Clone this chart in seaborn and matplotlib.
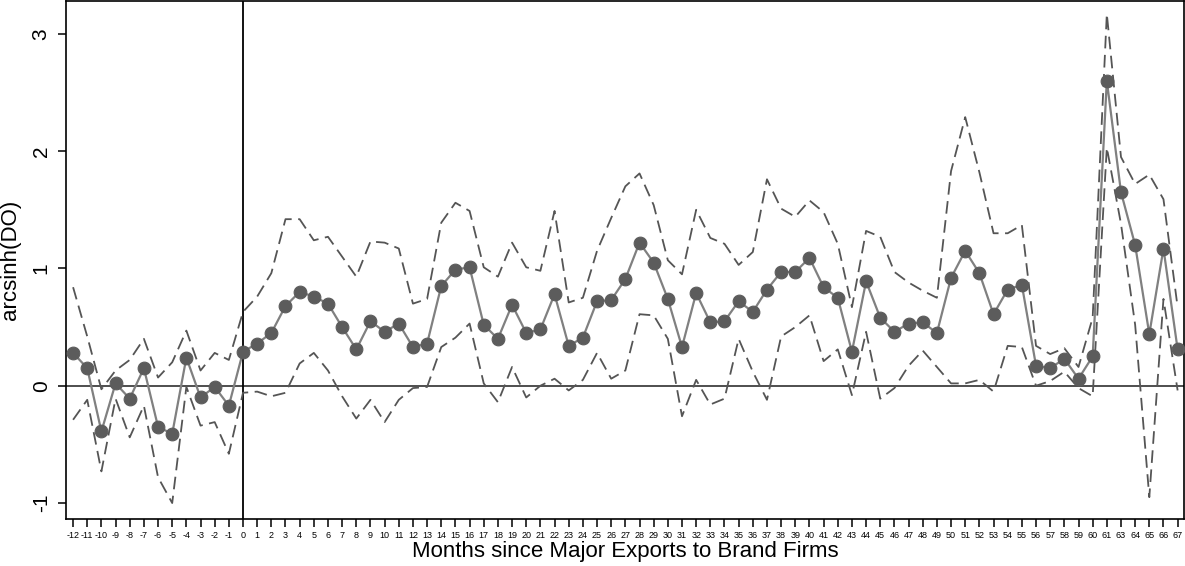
import numpy as np
import pandas as pd
import matplotlib
matplotlib.use("Agg")
import matplotlib.pyplot as plt
import seaborn as sns

# ---- data -------------------------------------------------------------
months = list(range(-12, 62)) + [63, 64, 65, 66, 67]

estimate = [0.28, 0.15, -0.39, 0.02, -0.11, 0.15, -0.35, -0.41, 0.24, -0.10, -0.01, -0.17,
            0.29, 0.36, 0.45, 0.68, 0.80, 0.76, 0.70, 0.50, 0.31, 0.55, 0.46, 0.53,
            0.33, 0.36, 0.85, 0.99, 1.01, 0.52, 0.40, 0.69, 0.45, 0.48, 0.78, 0.34,
            0.41, 0.72, 0.73, 0.91, 1.22, 1.05, 0.74, 0.33, 0.79, 0.54, 0.55, 0.72,
            0.63, 0.82, 0.97, 0.97, 1.09, 0.84, 0.75, 0.29, 0.89, 0.58, 0.46, 0.53,
            0.54, 0.45, 0.92, 1.15, 0.96, 0.61, 0.82, 0.86, 0.17, 0.15, 0.23, 0.06,
            0.25, 2.60, 1.65, 1.20, 0.44, 1.17, 0.31]

upper = [0.84, 0.42, -0.03, 0.13, 0.22, 0.40, 0.07, 0.20, 0.47, 0.13, 0.28, 0.22,
         0.63, 0.76, 0.96, 1.42, 1.42, 1.24, 1.27, 1.10, 0.93, 1.23, 1.22, 1.17,
         0.70, 0.74, 1.39, 1.56, 1.49, 1.01, 0.93, 1.22, 1.01, 0.98, 1.49, 0.71,
         0.75, 1.15, 1.43, 1.70, 1.81, 1.54, 1.07, 0.95, 1.50, 1.26, 1.21, 1.03,
         1.14, 1.76, 1.51, 1.44, 1.58, 1.48, 1.21, 0.67, 1.32, 1.27, 0.97, 0.88,
         0.81, 0.75, 1.83, 2.29, 1.82, 1.30, 1.30, 1.37, 0.34, 0.27, 0.32, 0.16,
         0.58, 3.17, 1.95, 1.72, 1.80, 1.59, 0.67]

lower = [-0.29, -0.12, -0.73, -0.11, -0.44, -0.17, -0.78, -1.00, -0.01, -0.34, -0.31, -0.58,
         -0.06, -0.05, -0.09, -0.06, 0.19, 0.28, 0.13, -0.09, -0.28, -0.12, -0.31, -0.12,
         -0.02, -0.01, 0.33, 0.41, 0.53, 0.02, -0.14, 0.16, -0.10, 0.00, 0.06, -0.04,
         0.05, 0.28, 0.06, 0.13, 0.61, 0.60, 0.40, -0.26, 0.05, -0.16, -0.11, 0.40,
         0.12, -0.12, 0.42, 0.50, 0.60, 0.21, 0.31, -0.08, 0.46, -0.11, -0.02, 0.17,
         0.30, 0.16, 0.02, 0.02, 0.05, -0.05, 0.34, 0.33, 0.00, 0.04, 0.12, -0.02,
         -0.09, 2.03, 1.38, 0.52, -0.95, 0.74, -0.04]

y_ticks = [-1, 0, 1, 2, 3]
x_label = "Months since Major Exports to Brand Firms"
y_label = "arcsinh(DO)"

# ---- figure -----------------------------------------------------------
sns.set_style("ticks")
plt.rcParams['font.family'] = ['Liberation Sans', 'DejaVu Sans']
plt.rcParams.update({"text.color": "black", "axes.labelcolor": "black",
                     "xtick.color": "black", "ytick.color": "black"})

df = pd.DataFrame({"pos": np.arange(len(months)), "month": months,
                   "estimate": estimate, "upper": upper, "lower": lower})

fig = plt.figure(figsize=(11.85, 5.66), dpi=100)
ax = fig.add_axes([66 / 1185, 1 - 519 / 566, (1184 - 66) / 1185, 518 / 566])

ax.axhline(0, color="#404040", lw=1.3, zorder=1)
ax.axvline(months.index(0), color="black", lw=1.3, zorder=1)

dash = (0, (7, 3.6))
sns.lineplot(data=df, x="pos", y="upper", ax=ax, color="#555555", lw=1.3,
             linestyle=dash, zorder=2)
sns.lineplot(data=df, x="pos", y="lower", ax=ax, color="#555555", lw=1.3,
             linestyle=dash, zorder=2)
sns.lineplot(data=df, x="pos", y="estimate", ax=ax, color="#808080", lw=1.6,
             marker="o", markersize=9.2, markerfacecolor="#5c5c5c",
             markeredgecolor="#5c5c5c", zorder=3)

ax.set_xlim(-0.5, 78.45)
ax.set_ylim(-1.136, 3.28)

ax.set_xticks(df["pos"])
ax.set_xticklabels([str(m) for m in months], fontsize=6.5)
ax.set_yticks(y_ticks)
ax.set_yticklabels([str(t) for t in y_ticks], fontsize=15, rotation=90, va="center")

ax.tick_params(axis="x", length=6, width=1.1, colors="black", pad=3)
ax.tick_params(axis="y", length=6, width=1.1, colors="black", pad=5)

ax.set_xlabel(x_label, fontsize=16, labelpad=0, color="black")
ax.set_ylabel(y_label, fontsize=16, labelpad=8, color="black")

for s in ax.spines.values():
    s.set_color("black")
    s.set_linewidth(1.2)

fig.savefig("out.png", dpi=100)
